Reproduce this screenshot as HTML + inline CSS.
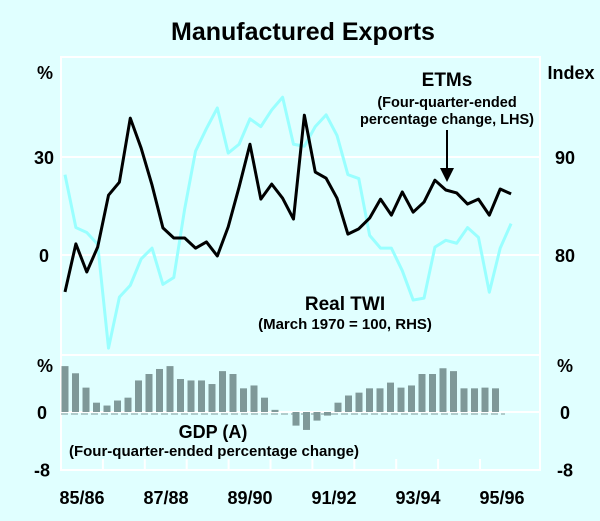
<!DOCTYPE html>
<html><head><meta charset="utf-8"><style>
body{margin:0;background:#e0ffff;}
svg{display:block;font-family:"Liberation Sans",Arial,sans-serif;}
</style></head><body>
<svg id="c" width="600" height="521" viewBox="0 0 600 521">
<rect x="0" y="0" width="600" height="521" fill="#e0ffff"/>
<text x="303" y="40" text-anchor="middle" font-size="25" font-weight="bold">Manufactured Exports</text>
<rect x="61" y="57" width="479" height="413" fill="none" stroke="#fff" stroke-width="2"/>
<line x1="61" y1="355" x2="540" y2="355" stroke="#fff" stroke-width="2"/>
<g id="grid"></g>
<g id="bars"></g>
<g id="lines"></g>
<g id="axes" font-weight="bold"></g>
<text x="447" y="86" text-anchor="middle" font-size="19" font-weight="bold">ETMs</text>
<text x="447" y="107" text-anchor="middle" font-size="14.5" font-weight="bold">(Four-quarter-ended</text>
<text x="447" y="124" text-anchor="middle" font-size="14.5" font-weight="bold">percentage change, LHS)</text>
<line x1="447" y1="130" x2="447" y2="170" stroke="#000" stroke-width="2"/>
<polygon points="440,168 454,168 447,182" fill="#000"/>
<text x="345" y="310" text-anchor="middle" font-size="19" font-weight="bold">Real TWI</text>
<text x="345" y="329" text-anchor="middle" font-size="15" font-weight="bold">(March 1970 = 100, RHS)</text>
<text x="213" y="438" text-anchor="middle" font-size="18" font-weight="bold">GDP (A)</text>
<text x="214" y="456" text-anchor="middle" font-size="15" font-weight="bold">(Four-quarter-ended percentage change)</text>
</svg>
<script>
const etm=[-11.3,3.4,-5.2,2.4,18.3,22.3,41.9,32.7,21.4,8.3,5.2,5.2,2.1,4.0,-0.3,8.6,20.8,33.9,17.1,21.7,17.4,11.0,42.8,25.4,23.5,17.4,6.4,8.0,11.3,17.1,12.2,19.3,13.1,16.2,22.9,19.9,19.0,15.6,17.1,12.2,20.2,18.7];
const twi=[88.2,82.8,82.3,81.1,70.5,75.7,76.9,79.6,80.7,77.0,77.7,84.7,90.6,92.9,95.0,90.4,91.3,93.9,93.1,94.8,96.1,91.3,91.1,93.1,94.3,92.2,88.2,87.8,82.0,80.7,80.7,78.4,75.4,75.6,80.8,81.5,81.2,82.8,81.8,76.2,80.7,83.2];
const gdp=[6.4,5.4,3.4,1.3,0.9,1.6,2.0,4.4,5.3,6.0,6.4,4.6,4.4,4.4,3.9,5.7,5.3,3.3,3.7,2.0,0.3,0,-1.9,-2.5,-1.2,-0.5,1.3,2.3,2.7,3.3,3.3,4.1,3.4,3.7,5.3,5.3,6.1,5.7,3.3,3.3,3.4,3.3];
const yearLabels=["85/86","87/88","89/90","91/92","93/94","95/96"];
const leftTicks=[30,0];
const rightTicks=[90,80];
const gdpTicks=[0,-8];

const NS="http://www.w3.org/2000/svg";
function mk(tag,attrs,parent,text){const e=document.createElementNS(NS,tag);for(const k in attrs)e.setAttribute(k,attrs[k]);if(text!==undefined)e.textContent=text;parent.appendChild(e);return e;}
const yL=v=>255-(v)*98/30;
const yR=v=>255-(v-80)*9.8;
const yG=v=>412-v*7.17;
const xLine=i=>65+i*10.88;
const xBar=i=>65+i*10.5;
const grid=document.getElementById('grid'),bars=document.getElementById('bars'),lines=document.getElementById('lines'),axes=document.getElementById('axes');

leftTicks.forEach(v=>{
 const g=mk('line',{x1:61,x2:540,y1:yL(v),y2:yL(v),stroke:'#fff','stroke-width':2},grid);
 
 
 const t=mk('text',{x:44,y:yL(v)+7,'text-anchor':'middle','font-size':18},axes,String(v));
 
 
});
rightTicks.forEach(v=>{
 const t=mk('text',{x:565,y:yR(v)+7,'text-anchor':'middle','font-size':18},axes,String(v));
 
 
});
gdpTicks.forEach(v=>{
 const t1=mk('text',{x:42,y:yG(v)+7,'text-anchor':'middle','font-size':18},axes,String(v));
 
 
 const t2=mk('text',{x:565,y:yG(v)+7,'text-anchor':'middle','font-size':18},axes,String(v));
 
 
});
[['%',45,79,'left-unit'],['Index',571,79,'right-unit'],['%',45,372,'gdp-left-unit'],['%',565,372,'gdp-right-unit']].forEach(a=>{
 const t=mk('text',{x:a[1],y:a[2],'text-anchor':'middle','font-size':18,'font-weight':'bold'},axes,a[0]);
 
 
});
const z=mk('line',{x1:61,x2:540,y1:yG(0),y2:yG(0),stroke:'#fff','stroke-width':2},grid);


const zd=mk('line',{x1:61,x2:505,y1:yG(0)+2,y2:yG(0)+2,stroke:'#7f9999','stroke-width':1,'stroke-dasharray':'7,3'},grid);


for(let k=1;k<=10;k++){
 const x=61+k*41.9;
 const tk=mk('line',{x1:x,x2:x,y1:469,y2:459,stroke:'#fff','stroke-width':2},grid);
 
 
}
yearLabels.forEach((s,i)=>{
 const t=mk('text',{x:82+i*84,y:504,'text-anchor':'middle','font-size':18},axes,s);
 
 
});
gdp.forEach((v,i)=>{
 const y0=yG(0),y1=yG(v);
 const r=mk('rect',{x:xBar(i)-3.5,y:Math.min(y0,y1),width:7,height:Math.max(Math.abs(y1-y0),0.01),fill:'#7f9999'},bars);
 
 
});
const pT=mk('polyline',{points:twi.map((v,i)=>xLine(i)+','+yR(v)).join(' '),fill:'none',stroke:'#99ffff','stroke-width':3,'stroke-linejoin':'round'},lines);


const pE=mk('polyline',{points:etm.map((v,i)=>xLine(i)+','+yL(v)).join(' '),fill:'none',stroke:'#000','stroke-width':3,'stroke-linejoin':'round'},lines);


</script>
</body></html>
